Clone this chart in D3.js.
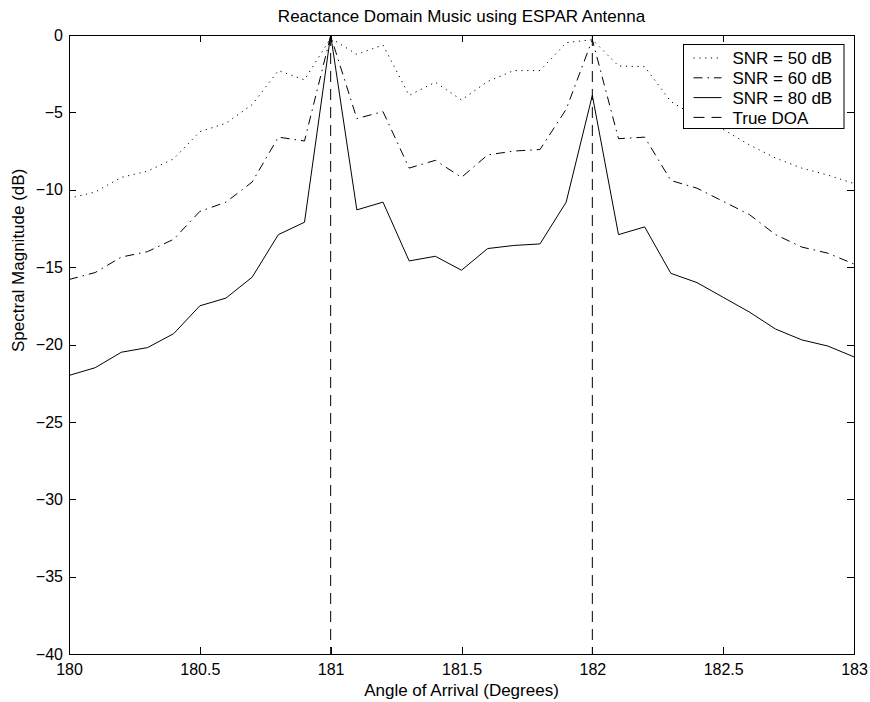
<!DOCTYPE html>
<html>
<head>
<meta charset="utf-8">
<script src="https://cdn.jsdelivr.net/npm/d3@7"></script>
<style>
    body { margin: 0; background: #ffffff; }
    text { font-family: "Liberation Sans", Arial, Helvetica, sans-serif; fill: #000000; }
</style>
</head>
<body>
<div id="graph"></div>
<script>

// Données (angle en degrés, amplitude en dB)
const angles = [180.0, 180.1, 180.2, 180.3, 180.4, 180.5, 180.6, 180.7, 180.8, 180.9,
    181.0, 181.1, 181.2, 181.3, 181.4, 181.5, 181.6, 181.7, 181.8, 181.9,
    182.0, 182.1, 182.2, 182.3, 182.4, 182.5, 182.6, 182.7, 182.8, 182.9, 183.0];

const snr50 = [-10.55, -10.15, -9.2, -8.8, -8.0, -6.25, -5.7, -4.5, -2.3, -2.9,
    -0.2, -1.25, -0.65, -3.9, -3.05, -4.2, -3.0, -2.3, -2.3, -0.5,
    -0.3, -2.0, -2.05, -4.3, -5.3, -6.1, -7.1, -7.95, -8.6, -9.05, -9.6];

const snr60 = [-15.8, -15.35, -14.35, -14.0, -13.2, -11.4, -10.8, -9.5, -6.6, -6.85,
    -0.05, -5.4, -4.95, -8.6, -8.1, -9.2, -7.75, -7.5, -7.4, -4.8,
    -0.3, -6.7, -6.6, -9.4, -9.9, -10.75, -11.6, -12.9, -13.7, -14.1, -14.8];

const snr80 = [-22.0, -21.5, -20.5, -20.2, -19.3, -17.5, -17.0, -15.65, -12.9, -12.1,
    0.0, -11.3, -10.8, -14.6, -14.3, -15.2, -13.8, -13.6, -13.5, -10.8,
    -3.9, -12.9, -12.4, -15.4, -16.0, -16.95, -17.9, -19.0, -19.7, -20.1, -20.8];

// Vraies directions d'arrivée
const trueDoa = [181, 182];

// Graduations
const xTicks = [180, 180.5, 181, 181.5, 182, 182.5, 183];
const yTicks = [-40, -35, -30, -25, -20, -15, -10, -5, 0];

// Légende
const legendLabels = ["SNR = 50 dB", "SNR = 60 dB", "SNR = 80 dB", "True DOA"];

//---------------------------------------------------------------------------------------

// Création du canevas SVG

const totalW = 870;
const totalH = 702;
const marginL = 69;
const marginR = 16;
const marginT = 35;
const marginB = 48;
const width = totalW - marginL - marginR;
const height = totalH - marginT - marginB;
const tickLen = 7;
const fontSize = 16;   // graduations
const labelSize = 17;  // titre, libellés, légende

const svg = d3.select("#graph")
    .append("svg")
    .attr("width", totalW)
    .attr("height", totalH);

const svgPlot = svg.append("g")
    .attr("transform", `translate(${marginL}, ${marginT})`);

//---------------------------------------------------------------------------------------

// Échelles

const scaleX = d3.scaleLinear()
    .domain([180, 183])
    .range([0, width]);

const scaleY = d3.scaleLinear()
    .domain([-40, 0])
    .range([height, 0]);

//---------------------------------------------------------------------------------------

// Styles des séries (pointillés façon MATLAB)
const styles = {
    dotted: "1.2,4.6",
    dashdot: "9,5,1.5,5",
    solid: null,
    dashed: "11,7"
};

const series = [
    { values: snr50, dash: styles.dotted },
    { values: snr60, dash: styles.dashdot },
    { values: snr80, dash: styles.solid }
];

// générateur de ligne
const lineGenerator = d3.line()
    .x(d => scaleX(d[0]))
    .y(d => scaleY(d[1]));

series.forEach(s => {
    svgPlot.append("path")
        .attr("d", lineGenerator(angles.map((a, i) => [a, s.values[i]])))
        .attr("fill", "none")
        .attr("stroke", "#000000")
        .attr("stroke-width", 1)
        .attr("stroke-dasharray", s.dash);
});

// Lignes verticales des vraies DOA
trueDoa.forEach(a => {
    svgPlot.append("path")
        .attr("d", lineGenerator([[a, 0], [a, -40]]))
        .attr("fill", "none")
        .attr("stroke", "#000000")
        .attr("stroke-width", 1)
        .attr("stroke-dasharray", styles.dashed);
});

//---------------------------------------------------------------------------------------

// Axes (ticks vers l'intérieur, boîte complète)

const styleAxis = g => {
    g.select(".domain").attr("stroke", "#000000");
    g.selectAll(".tick line").attr("stroke", "#000000");
    g.selectAll("text")
        .attr("font-size", fontSize + "px")
        .attr("font-family", "'Liberation Sans', Arial, sans-serif")
        .attr("fill", "#000000");
    g.attr("shape-rendering", "crispEdges");
};

svgPlot.append("g")
    .attr("transform", `translate(0, ${height})`)
    .call(d3.axisBottom(scaleX)
        .tickValues(xTicks)
        .tickFormat(d3.format("~g"))
        .tickSizeInner(-tickLen)
        .tickSizeOuter(0)
        .tickPadding(10))
    .call(styleAxis);

svgPlot.append("g")
    .call(d3.axisTop(scaleX)
        .tickValues(xTicks)
        .tickFormat("")
        .tickSizeInner(-tickLen)
        .tickSizeOuter(0))
    .call(styleAxis);

svgPlot.append("g")
    .call(d3.axisLeft(scaleY)
        .tickValues(yTicks)
        .tickSizeInner(-tickLen)
        .tickSizeOuter(0)
        .tickPadding(6))
    .call(styleAxis);

svgPlot.append("g")
    .attr("transform", `translate(${width}, 0)`)
    .call(d3.axisRight(scaleY)
        .tickValues(yTicks)
        .tickFormat("")
        .tickSizeInner(-tickLen)
        .tickSizeOuter(0))
    .call(styleAxis);

//---------------------------------------------------------------------------------------

// Titres

svg.append("text")
    .attr("x", marginL + width / 2)
    .attr("y", 22)
    .attr("text-anchor", "middle")
    .attr("font-size", labelSize + "px")
    .text("Reactance Domain Music using ESPAR Antenna");

svg.append("text")
    .attr("x", marginL + width / 2)
    .attr("y", 696)
    .attr("text-anchor", "middle")
    .attr("font-size", labelSize + "px")
    .text("Angle of Arrival (Degrees)");

svg.append("text")
    .attr("transform", "translate(24, 352) rotate(-90)")
    .attr("text-anchor", "start")
    .attr("font-size", labelSize + "px")
    .text("Spectral Magnitude (dB)");

//---------------------------------------------------------------------------------------

// Légende

const legendX = 683.5;
const legendY = 44.5;
const legendW = 160.5;
const legendH = 84;
const rowH = 19.8;

const svgLegend = svg.append("g")
    .attr("transform", `translate(${legendX}, ${legendY})`);

svgLegend.append("rect")
    .attr("width", legendW)
    .attr("height", legendH)
    .attr("fill", "#ffffff")
    .attr("stroke", "#000000")
    .attr("stroke-width", 1);

const legendDash = [styles.dotted, styles.dashdot, styles.solid, styles.dashed];

const legend = svgLegend.selectAll(".legend")
    .data(legendLabels)
    .join("g")
    .attr("class", "legend")
    .attr("transform", (d, i) => `translate(0, ${13.5 + i * rowH})`);

legend.append("line")
    .attr("x1", 10)
    .attr("x2", 38)
    .attr("y1", 0)
    .attr("y2", 0)
    .attr("stroke", "#000000")
    .attr("stroke-width", 1)
    .attr("stroke-dasharray", (d, i) => legendDash[i]);

legend.append("text")
    .attr("x", 49)
    .attr("y", 0)
    .attr("dy", "0.36em")
    .attr("font-size", labelSize + "px")
    .text(d => d);

</script>
</body>
</html>
